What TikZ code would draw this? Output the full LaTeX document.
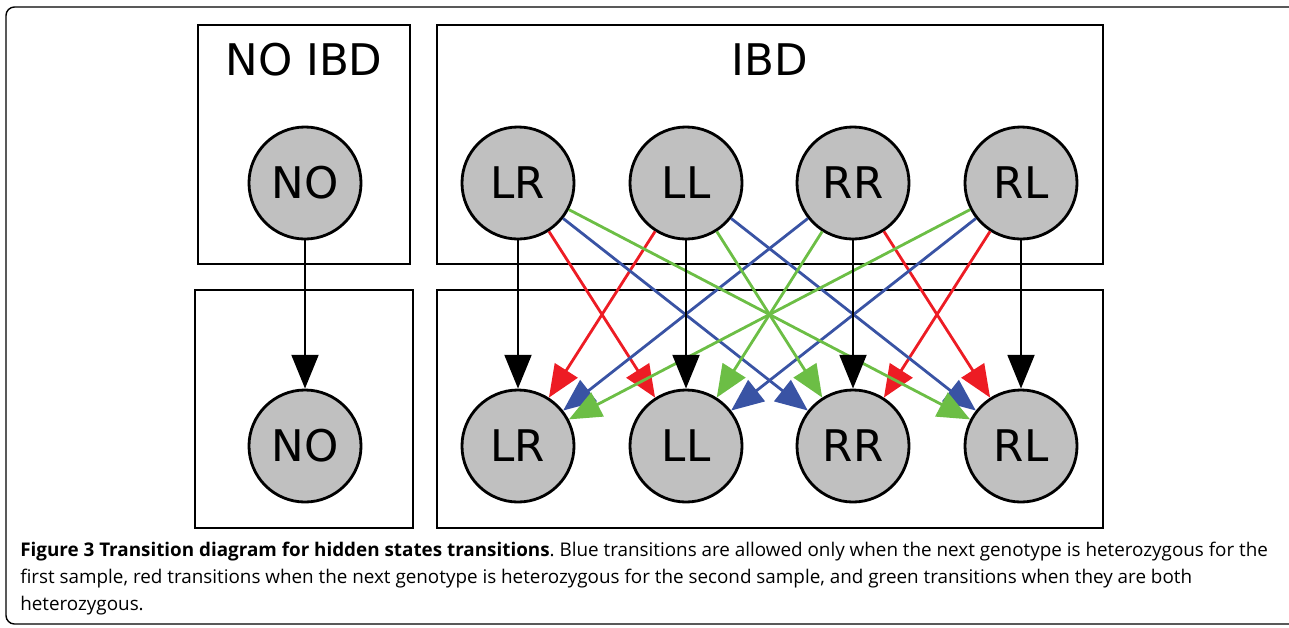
\documentclass[tikz,border=0pt]{standalone}
\usepackage{fontspec}
\setmainfont{DejaVu Sans}
\newfontfamily\captionfont{Open Sans}
\usetikzlibrary{arrows.meta}

\definecolor{hetred}{RGB}{237,28,36}
\definecolor{hetblue}{RGB}{57,83,164}
\definecolor{hetgreen}{RGB}{108,190,69}
\definecolor{stategray}{RGB}{192,192,192}

\begin{document}
\begin{tikzpicture}[x=0.025cm,y=-0.025cm,
    state/.style={circle,draw=black,line width=2pt,fill=stategray,inner sep=0pt,
      minimum size=2.8cm,font=\fontsize{31}{36}\selectfont},
    grouplabel/.style={inner sep=0pt,font=\fontsize{31}{36}\selectfont},
    groupbox/.style={draw=black,line width=2.1pt},
    trans/.style={line width=2.1pt,-{Triangle[length=24pt,width=19pt]}},
    hettrans/.style={line width=2pt,-{Triangle[length=23pt,width=19pt]}}]
      \useasboundingbox (0,0) rectangle (1289,627);

      % outer frame of the figure
      \draw[line width=1pt,rounded corners=6pt] (6,7) rectangle (1300,624);

      % boxes for the two groups of states
      \draw[groupbox] (198,25) rectangle (410,264);
      \draw[groupbox] (437,25) rectangle (1103,264);
      \draw[groupbox] (195,290) rectangle (413,528);
      \draw[groupbox] (437,290) rectangle (1103,528);

      \node[grouplabel] (noibd) at (304,60) {NO IBD};
      \node[grouplabel] (ibd) at (770,60) {IBD};

      % states, top row and bottom row
      \node[state] (topNO) at (305,183) {NO};
      \node[state] (botNO) at (305,446) {NO};
      \foreach \s/\x in {LR/518, LL/686, RR/853, RL/1021} {
        \node[state] (top\s) at (\x,183) {\s};
        \node[state] (bot\s) at (\x,446) {\s};
      }

      % transitions
      \foreach \a/\b/\c in {LR/LL/hetred, LL/LR/hetred, RR/RL/hetred, RL/RR/hetred,
                            LR/RR/hetblue, RR/LR/hetblue, LL/RL/hetblue, RL/LL/hetblue,
                            LR/RL/hetgreen, RL/LR/hetgreen, LL/RR/hetgreen, RR/LL/hetgreen} {
        \draw[hettrans,draw=\c,fill=\c] (top\a) -- (bot\b);
      }
      \foreach \s in {NO, LR, LL, RR, RL} {
        \draw[trans] (top\s) -- (bot\s);
      }

      \node[anchor=north west,align=left,inner sep=0pt,
        font=\captionfont\frenchspacing\fontsize{13.4}{19.2}\selectfont] (caption) at (20,542)
        {\textbf{Figure 3 Transition diagram for hidden states transitions}. Blue transitions are allowed only when the next genotype is heterozygous for the\\
         first sample, red transitions when the next genotype is heterozygous for the second sample, and green transitions when they are both\\
         heterozygous.};
\end{tikzpicture}
\end{document}
